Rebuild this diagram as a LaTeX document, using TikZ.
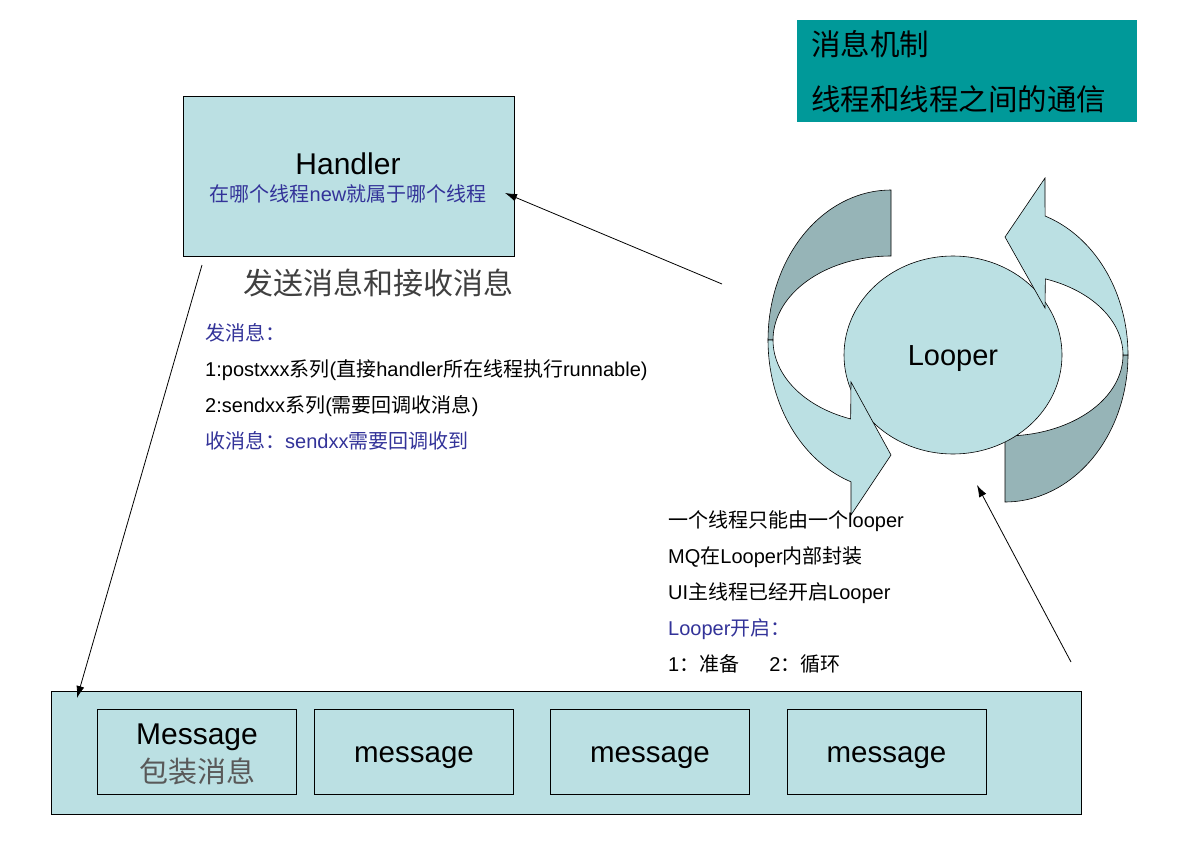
\documentclass[tikz,border=0pt]{standalone}
\usepackage{fontspec}
\setmainfont{Liberation Sans}
\newfontfamily\cjk{Noto Sans CJK SC}
\newcommand{\zhtext}[1]{{\cjk #1}}
\usetikzlibrary{arrows.meta,shapes.geometric}
\definecolor{boxfill}{RGB}{187,224,227}
\definecolor{bandback}{RGB}{150,180,183}
\definecolor{titlefill}{RGB}{0,153,153}
\definecolor{noteblue}{RGB}{51,51,153}
\tikzset{
  fs/.style={font=\fontsize{#1}{#1}\selectfont},
  box/.style={draw, fill=boxfill, line width=0.8pt, inner sep=0pt},
  msgbox/.style={box, minimum width=199, minimum height=85, fs=29.5,
    text height=21pt, text depth=0pt},
  note/.style={anchor=base west, inner sep=0pt, fs=20},
  band back/.style={draw, fill=bandback, line width=0.6pt},
  band front/.style={draw, fill=boxfill, line width=0.6pt},
  link/.style={->, line width=0.8pt}
}

\begin{document}
\begin{tikzpicture}[x=1pt,y=-1pt]
\tikzset{>={Latex[length=12pt,width=8pt]}}
  \useasboundingbox[fill=white] (0,0) rectangle (1185,859);

  % title
  \node[fill=titlefill, minimum width=340, minimum height=102, anchor=north west] (title) at (797,20) {};
  \node[note, fs=29.5] (title1) at (811,56) {\zhtext{消息机制}};
  \node[note, fs=29.5] (title2) at (811,110) {\zhtext{线程和线程之间的通信}};

  % handler
  \node[box, minimum width=331, minimum height=160, anchor=north west] (handler) at (182.5,95.5) {};
  \node[anchor=base, inner sep=0pt, fs=30] (handler name) at (348,174) {Handler};
  \node[anchor=base, inner sep=0pt, fs=20, text=noteblue] (handler note) at (348,201)
    {\zhtext{在哪个线程}new\zhtext{就属于哪个线程}};
  \node[note, fs=30, text=black!75] (send recv) at (243,294) {\zhtext{发送消息和接收消息}};

  \node[note, text=noteblue] (send) at (205,340) {\zhtext{发消息：}};
  \node[note] (post) at (205,376) {1:postxxx\zhtext{系列}(\zhtext{直接}handler\zhtext{所在线程执行}runnable)};
  \node[note] (sendxx) at (205,412) {2:sendxx\zhtext{系列}(\zhtext{需要回调收消息})};
  \node[note, text=noteblue] (recv) at (205,448) {\zhtext{收消息：}sendxx\zhtext{需要回调收到}};

  % looper
  \filldraw[band back, samples=40] plot[domain=270:180] ({891+123*cos(\x)},{340+150*sin(\x)})
    -- plot[domain=180:270] ({891+118*cos(\x)},{340+84*sin(\x)}) -- cycle;
  \filldraw[band back, samples=40] plot[domain=90:0] ({1005+123*cos(\x)},{355+147*sin(\x)})
    -- plot[domain=0:90] ({1005+118*cos(\x)},{355+81*sin(\x)}) -- cycle;
  \node[draw, ellipse, fill=boxfill, line width=0.6pt, minimum width=218, minimum height=198,
    inner sep=0pt, fs=29, text height=20pt, text depth=0pt] (looper) at (953,355) {Looper};

  \node[note] (one looper) at (668,527) {\zhtext{一个线程只能由一个}looper};
  \node[note] (mq) at (668,563) {MQ\zhtext{在}Looper\zhtext{内部封装}};
  \node[note] (ui) at (668,599) {UI\zhtext{主线程已经开启}Looper};
  \node[note, text=noteblue] (start) at (668,635) {Looper\zhtext{开启：}};
  \node[note] (steps) at (668,671) {1\zhtext{：准备}\hspace{1.5em}2\zhtext{：循环}};

  \filldraw[band front, samples=40] plot[domain=180:109] ({891+123*cos(\x)},{340+150*sin(\x)})
    -- (851,515) -- (891,455) -- (851,382)
    -- plot[domain=110:180] ({891+118*cos(\x)},{340+84*sin(\x)}) -- cycle;
  \filldraw[band front, samples=40] plot[domain=0:-71] ({1005+123*cos(\x)},{355+147*sin(\x)})
    -- (1045,178) -- (1005,237) -- (1045,308)
    -- plot[domain=-70:0] ({1005+118*cos(\x)},{355+81*sin(\x)}) -- cycle;

  % message queue
  \node[box, minimum width=1030, minimum height=123, anchor=north west] (queue) at (50.5,690.5) {};
  \node[msgbox] (msg1) at (197,751.5) {};
  \node[anchor=base, inner sep=0pt, fs=30] (msg1 name) at (197,744) {Message};
  \node[anchor=base, inner sep=0pt, fs=29, text=black!65] (msg1 note) at (197,782) {\zhtext{包装消息}};
  \node[msgbox] (msg2) at (414,751.5) {message};
  \node[msgbox] (msg3) at (650,751.5) {message};
  \node[msgbox] (msg4) at (886.5,751.5) {message};

  % links
  \coordinate (looper out) at (722,284);
  \coordinate (handler in) at (505,193);
  \coordinate (handler out) at (202,265);
  \coordinate (queue in) at (77,698);
  \coordinate (queue out) at (1071,662);
  \coordinate (looper in) at (977,485);
  \draw[link] (looper out) -- (handler in);
  \draw[link] (handler out) -- (queue in);
  \draw[link] (queue out) -- (looper in);
\end{tikzpicture}
\end{document}
